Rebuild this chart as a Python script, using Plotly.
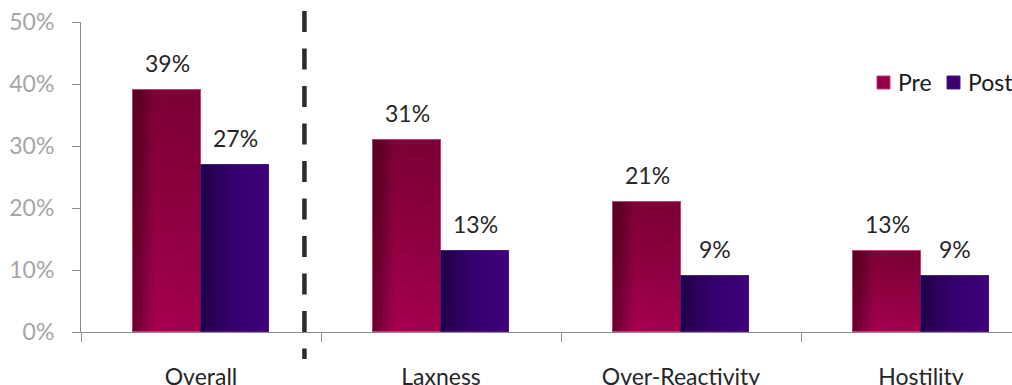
import plotly.graph_objects as go

# Share of respondents reporting each parenting problem, before and after
categories = ["Overall", "Laxness", "Over-Reactivity", "Hostility"]
pre_values = [39, 31, 21, 13]
post_values = [27, 13, 9, 9]
y_ticks = [0, 10, 20, 30, 40, 50]
series_names = ["Pre", "Post"]

FONT = "Lato"
BAR_W = 0.2833          # width of one bar, in category units
N_SLICES = 16           # vertical strips used to shade each bar left-to-right
N_LAYERS = 12           # stacked translucent layers darkening each bar toward its top

PRE_STOPS = [(0.0, (100, 0, 42)), (0.12, (125, 0, 58)), (0.32, (164, 0, 78)), (1.0, (160, 0, 76))]
POST_STOPS = [(0.0, (32, 0, 72)), (0.45, (52, 0, 106)), (1.0, (64, 0, 124))]
PRE_EDGE, POST_EDGE = "#c8387a", "#4a1a86"
PRE_SOLID, POST_SOLID = "#940046", "#3a0070"


def shade(stops, f):
    for (f0, c0), (f1, c1) in zip(stops[:-1], stops[1:]):
        if f0 <= f <= f1:
            t = (f - f0) / (f1 - f0) if f1 > f0 else 0
            r, g, b = (round(a + (bb - a) * t) for a, bb in zip(c0, c1))
            return f"rgb({r},{g},{b})"
    r, g, b = stops[-1][1]
    return f"rgb({r},{g},{b})"


fig = go.Figure()


def add_series(name, values, stops, start, edge, solid, top_dark):
    fig.add_trace(go.Bar(
        x=categories, y=values, name=name, offset=start, width=BAR_W,
        marker=dict(color=solid, line=dict(color=edge, width=1)),
        showlegend=False, hoverinfo="skip",
    ))
    step = BAR_W / N_SLICES
    for i in range(N_SLICES):
        left = start + i * step
        w = min(step * 1.3, start + BAR_W - left)
        fig.add_trace(go.Bar(
            x=categories, y=values, offset=left, width=w,
            marker=dict(color=shade(stops, (i + 0.5) / N_SLICES), line=dict(width=0)),
            showlegend=False, hoverinfo="skip",
        ))
    # darker toward the top: each layer spans from a rising base up to the bar top
    if top_dark > 0:
        for j in range(1, N_LAYERS):
            frac = j / N_LAYERS
            fig.add_trace(go.Bar(
                x=categories, y=[v * (1 - frac) for v in values],
                base=[v * frac for v in values],
                offset=start, width=BAR_W,
                marker=dict(color=f"rgba(20,0,10,{top_dark / N_LAYERS:.3f})", line=dict(width=0)),
                showlegend=False, hoverinfo="skip",
            ))
    # thin highlighted rim
    fig.add_trace(go.Bar(
        x=categories, y=values, offset=start, width=BAR_W,
        marker=dict(color="rgba(0,0,0,0)", line=dict(color=edge, width=1)),
        showlegend=False, hoverinfo="skip",
    ))


add_series(series_names[0], pre_values, PRE_STOPS, -BAR_W, PRE_EDGE, PRE_SOLID, 0.34)
add_series(series_names[1], post_values, POST_STOPS, 0.0, POST_EDGE, POST_SOLID, 0.0)

# value labels above bars
annotations = []
for values, shift in ((pre_values, -BAR_W / 2), (post_values, BAR_W / 2)):
    for i, v in enumerate(values):
        annotations.append(dict(
            x=i + shift, y=v, xref="x", yref="y", text=f"{v}%",
            showarrow=False, yshift=27, xanchor="center", yanchor="middle",
            font=dict(family=FONT, size=23, color="#262626"),
        ))

plot_w = 1012 - 81
plot_h = 310


def px_x(px):
    return (px - 81) / plot_w


def px_y(py):
    return (332 - py) / plot_h


# legend: colour key squares with their series names
shapes = []
legend_items = [(series_names[0], PRE_SOLID, PRE_EDGE, 877),
                (series_names[1], POST_SOLID, POST_EDGE, 947)]
for name, fill, edge, left in legend_items:
    shapes.append(dict(
        type="rect", xref="paper", yref="paper",
        x0=px_x(left), x1=px_x(left + 13), y0=px_y(89), y1=px_y(76),
        fillcolor=fill, line=dict(color=edge, width=1), layer="above",
    ))
    annotations.append(dict(
        x=px_x(left + 19), y=px_y(82), xref="paper", yref="paper",
        text=name, showarrow=False, xanchor="left", yanchor="middle",
        font=dict(family=FONT, size=23, color="#1a1a1a"),
    ))

# dashed divider between the overall figure and the sub-scales
shapes.append(dict(
    type="line", xref="x", yref="paper",
    x0=0.431, x1=0.431, y0=px_y(11), y1=px_y(359),
    line=dict(color="#2b2b2b", width=4.5, dash="21px,16.5px"),
    layer="above",
))

fig.update_layout(
    width=1012, height=385,
    margin=dict(l=81, r=0, t=22, b=53),
    paper_bgcolor="white", plot_bgcolor="white",
    barmode="overlay",
    bargap=0,
    showlegend=False,
    annotations=annotations,
    shapes=shapes,
    xaxis=dict(
        type="category", range=[-0.5, -0.5 + plot_w / 240],
        showline=True, linecolor="#8c8c8c", linewidth=1,
        ticks="outside", tickson="boundaries", ticklen=9, tickcolor="#8c8c8c",
        tickfont=dict(family=FONT, size=23, color="#262626"),
        ticklabelstandoff=24, automargin=False,
        showgrid=False, zeroline=False, fixedrange=True,
    ),
    yaxis=dict(
        range=[0, 50], tickmode="array", tickvals=y_ticks,
        ticktext=[f"{t}%" for t in y_ticks],
        showline=True, linecolor="#8c8c8c", linewidth=1,
        ticks="outside", ticklen=8, tickcolor="#8c8c8c",
        tickfont=dict(family=FONT, size=23, color="#a6a6a6"),
        ticklabelstandoff=13, automargin=False,
        showgrid=False, zeroline=False, fixedrange=True,
    ),
)

fig.write_html("out.html")
